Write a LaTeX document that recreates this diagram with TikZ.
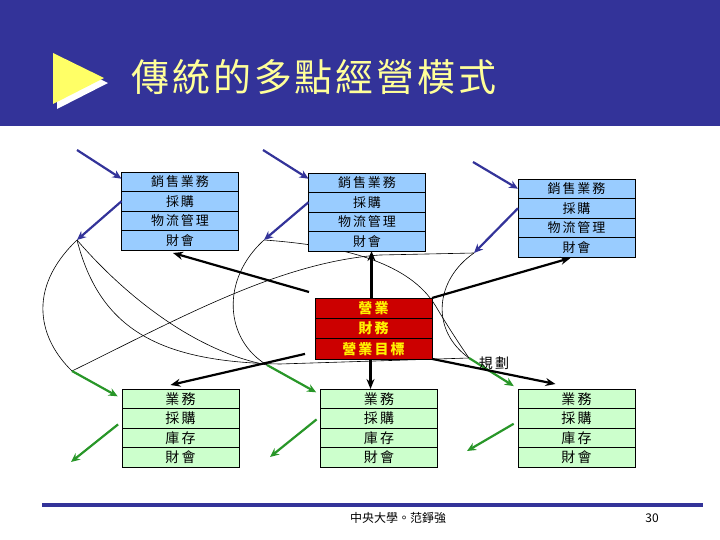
\documentclass[tikz,border=0pt]{standalone}
\usepackage{fontspec}
\newfontfamily\cjk{Noto Sans CJK TC}
\newfontfamily\cjkwide[LetterSpace=15]{Noto Sans CJK TC}
\newfontfamily\cjktitle[LetterSpace=7.5]{Noto Sans CJK TC}
\usepackage{tikz}
\usetikzlibrary{positioning}
\usetikzlibrary{arrows.meta}
\definecolor{hdrblue}{RGB}{51,51,153}
\definecolor{ttlyellow}{RGB}{255,255,153}
\definecolor{triyellow}{RGB}{255,255,102}
\definecolor{boxblue}{RGB}{153,204,255}
\definecolor{boxred}{RGB}{204,0,0}
\definecolor{boxgreen}{RGB}{204,255,204}
\definecolor{arrgreen}{RGB}{40,150,40}

\tikzset{
  cell/.style={draw=black, line width=0.8pt, minimum width=117pt,
    minimum height=19.5pt, inner sep=0pt, outer sep=0pt,
    font=\cjkwide\fontsize{13}{13}\selectfont},
  bluecell/.style={cell, fill=boxblue},
  redcell/.style={cell, fill=boxred, text=yellow, minimum height=20.3pt,
    font=\cjkwide\bfseries\fontsize{14}{14}\selectfont},
  greencell/.style={cell, fill=boxgreen,
    font=\cjkwide\fontsize{14}{14}\selectfont},
  bluearrow/.style={-{Stealth[length=9pt,width=8pt]}, line width=2.2pt, draw=hdrblue},
  greenarrow/.style={-{Stealth[length=9pt,width=8pt]}, line width=2.2pt, draw=arrgreen},
  blackarrow/.style={-{Stealth[length=10pt,width=8pt]}, line width=2.2pt, draw=black},
  web/.style={line width=0.6pt, draw=black}
}

\begin{document}
\begin{tikzpicture}[x=1pt, y=-1pt]
\useasboundingbox (0,0) rectangle (720,540);

%---------------------------------------
% Header
%---------------------------------------
\fill[hdrblue] (0,0) rectangle (720,126);
\fill[white] (57,58) -- (57,109) -- (108,83) -- cycle;
\fill[triyellow] (53,53) -- (53,104) -- (104,78) -- cycle;
\node[anchor=west, text=ttlyellow, font=\cjktitle\fontsize{38}{38}\selectfont]
  (title) at (128,77) {傳統的多點經營模式};

%---------------------------------------
% End points of the web lines
%---------------------------------------
\coordinate (P1) at (77,240);
\coordinate (P2) at (264,240);
\coordinate (P3) at (474,253);
\coordinate (Q1) at (72,371);
\coordinate (Q2) at (267,365);
\coordinate (Q3) at (469,358);

% thin lines (under the boxes)
\draw[web] (P1) .. controls (25,290) and (40,340) .. (Q1);
\draw[web] (P1) .. controls (120,290) and (190,350) .. (Q2);
\draw[web] (P1) .. controls (100,330) and (160,362) .. (280,364) -- (Q3);
\draw[web] (P2) .. controls (220,280) and (225,340) .. (Q2);
\draw[web] (P2) .. controls (350,246) and (410,265) .. (435,305)
  .. controls (450,330) and (460,345) .. (Q3);
\draw[web] (Q1) .. controls (180,318) and (280,262) .. (380,255) -- (P3);
\draw[web] (P3) .. controls (435,280) and (430,330) .. (Q3);

%---------------------------------------
% Top boxes (blue)
%---------------------------------------
\node[bluecell, anchor=north] (a-1) at (180,172) {銷售業務};
\node[bluecell, below=0pt of a-1] (a-2) {採購};
\node[bluecell, below=0pt of a-2] (a-3) {物流管理};
\node[bluecell, below=0pt of a-3] (a-4) {財會};

\node[bluecell, anchor=north] (b-1) at (367,173) {銷售業務};
\node[bluecell, below=0pt of b-1] (b-2) {採購};
\node[bluecell, below=0pt of b-2] (b-3) {物流管理};
\node[bluecell, below=0pt of b-3] (b-4) {財會};

\node[bluecell, anchor=north] (c-1) at (576.5,179) {銷售業務};
\node[bluecell, below=0pt of c-1] (c-2) {採購};
\node[bluecell, below=0pt of c-2] (c-3) {物流管理};
\node[bluecell, below=0pt of c-3] (c-4) {財會};

%---------------------------------------
% Head office (red)
%---------------------------------------
\node[redcell, anchor=north] (r-1) at (373.5,298) {營業};
\node[redcell, below=0pt of r-1] (r-2) {財務};
\node[redcell, below=0pt of r-2] (r-3) {營業目標};

%---------------------------------------
% Bottom boxes (green)
%---------------------------------------
\node[greencell, anchor=north] (ga-1) at (180.5,389) {業務};
\node[greencell, below=0pt of ga-1] (ga-2) {採購};
\node[greencell, below=0pt of ga-2] (ga-3) {庫存};
\node[greencell, below=0pt of ga-3] (ga-4) {財會};

\node[greencell, anchor=north] (gb-1) at (379,389) {業務};
\node[greencell, below=0pt of gb-1] (gb-2) {採購};
\node[greencell, below=0pt of gb-2] (gb-3) {庫存};
\node[greencell, below=0pt of gb-3] (gb-4) {財會};

\node[greencell, anchor=north] (gc-1) at (576.5,389) {業務};
\node[greencell, below=0pt of gc-1] (gc-2) {採購};
\node[greencell, below=0pt of gc-2] (gc-3) {庫存};
\node[greencell, below=0pt of gc-3] (gc-4) {財會};

%---------------------------------------
% Arrows
%---------------------------------------
\coordinate (ain) at (77,150);
\coordinate (bin) at (263,150);
\coordinate (cin) at (473,162);
\draw[bluearrow] (ain) -- ([yshift=3pt]a-1.west);
\draw[bluearrow] (bin) -- ([yshift=4pt]b-1.west);
\draw[bluearrow] (cin) -- (c-1.west);
\draw[bluearrow] (a-2.west) -- (P1);
\draw[bluearrow] (b-2.west) -- (P2);
\draw[bluearrow] (c-2.west) -- (P3);

\coordinate (gaout) at (71,462);
\coordinate (gbout) at (270,457);
\coordinate (gcout) at (467,451);
\draw[greenarrow, shorten >=5pt] (Q1) -- (ga-1.west);
\draw[greenarrow, shorten >=5pt] (Q2) -- ([yshift=4pt]gb-1.west);
\draw[greenarrow, shorten >=5pt] (Q3) -- ([yshift=10pt]gc-1.west);
\draw[greenarrow, shorten <=5pt] ([yshift=-3pt]ga-2.west) -- (gaout);
\draw[greenarrow, shorten <=5pt] ([yshift=2pt]gb-2.west) -- (gbout);
\draw[greenarrow, shorten <=5pt] ([yshift=-3pt]gc-2.west) -- (gcout);

\draw[blackarrow] ([xshift=-6pt,yshift=6pt]r-1.north west) -- ([xshift=-7pt,yshift=-3pt]a-4.south);
\draw[blackarrow] ([xshift=-2pt]r-1.north) -- ([xshift=-2pt]r-1.north |- b-4.south);
\draw[blackarrow] (r-1.north east) -- ([xshift=-6pt,yshift=-1pt]c-4.south);
\draw[blackarrow] ([xshift=-10pt,yshift=5pt]r-3.south west) -- ([xshift=-10pt,yshift=4pt]ga-1.north);
\draw[blackarrow] ([xshift=-3pt]r-3.south) -- ([xshift=-3pt]r-3.south |- gb-1.north);
\draw[blackarrow] (r-3.south east) -- ([xshift=-21pt,yshift=5pt]gc-1.north);

\node[font=\cjkwide\fontsize{14}{14}\selectfont] (plan) at (494,363) {規劃};

%---------------------------------------
% Footer
%---------------------------------------
\draw[hdrblue, line width=4pt] (42,505) -- (703,505);
\node[font=\cjk\fontsize{12}{12}\selectfont] (credit) at (398,518) {中央大學。范錚強};
\node[font=\cjk\fontsize{12}{12}\selectfont] (page) at (652,518) {30};

\end{tikzpicture}
\end{document}
